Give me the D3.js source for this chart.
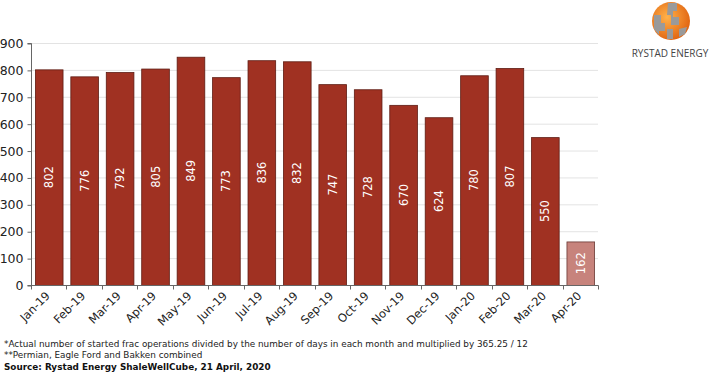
<!DOCTYPE html>
<html><head><meta charset="utf-8">
<script src="https://cdn.jsdelivr.net/npm/d3@7"></script>
<style>body{margin:0;background:#fff}svg{display:block}</style>
</head><body>
<script>
const categories = ["Jan-19","Feb-19","Mar-19","Apr-19","May-19","Jun-19","Jul-19","Aug-19","Sep-19","Oct-19","Nov-19","Dec-19","Jan-20","Feb-20","Mar-20","Apr-20"];
const values = [802,776,792,805,849,773,836,832,747,728,670,624,780,807,550,162];
const yTicks = [0,100,200,300,400,500,600,700,800,900];
const footnotes = [
  "*Actual number of started frac operations divided by the number of days in each month and multiplied by 365.25 / 12",
  "**Permian, Eagle Ford and Bakken combined"
];
const source = "Source: Rystad Energy ShaleWellCube, 21 April, 2020";

const W = 709, H = 372;
const font = "Verdana, 'DejaVu Sans', sans-serif";
const svg = d3.select("body").append("svg").attr("width", W).attr("height", H);

const x = d3.scaleBand().domain(categories).range([31, 598]).paddingInner(0.22).paddingOuter(0.11);
const y = d3.scaleLinear().domain([0, 900]).range([285, 43]);

// gridlines
svg.append("g").selectAll("line").data(yTicks.filter(d => d > 0)).join("line")
  .attr("x1", 31).attr("x2", 598).attr("y1", d => y(d) + 0.5).attr("y2", d => y(d) + 0.5)
  .attr("stroke", "#e3e3e3").attr("stroke-width", 1);

// bars
svg.append("g").selectAll("rect").data(values).join("rect")
  .attr("x", (d,i) => x(categories[i]) + 0.5)
  .attr("y", d => y(d) + 0.5)
  .attr("width", x.bandwidth())
  .attr("height", d => y(0) - y(d))
  .attr("fill", (d,i) => i === values.length - 1 ? "#c7837c" : "#a03122")
  .attr("stroke", (d,i) => i === values.length - 1 ? "#6b3a35" : "#5e1c13")
  .attr("stroke-width", 0.8);

// value labels
svg.append("g").selectAll("text").data(values).join("text")
  .attr("transform", (d,i) => `translate(${x(categories[i]) + x.bandwidth()/2 + 4.5},${(y(d) + y(0))/2}) rotate(-90)`)
  .attr("text-anchor", "middle")
  .attr("font-family", font).attr("font-size", 11.5)
  .attr("fill", "#fff")
  .text(d => d);

// y axis
const yAxis = d3.axisLeft(y).tickValues(yTicks).tickSize(4).tickPadding(4);
const gy = svg.append("g").attr("transform", "translate(31.5,0.5)").call(yAxis);
gy.select(".domain").attr("stroke", "#666").attr("d", `M-4,${y(900)}H0V${y(0)}H-4`);
gy.selectAll(".tick line").attr("stroke", "#666");
gy.selectAll(".tick text").attr("font-family", font).attr("font-size", 12.5).attr("fill", "#222");

// x axis
const gx = svg.append("g").attr("transform", `translate(0,${y(0) + 0.5})`);
gx.append("line").attr("x1", 31).attr("x2", 598.5).attr("y1", 0).attr("y2", 0).attr("stroke", "#666");
const bounds = categories.map(c => x(c) - x.step()*x.paddingInner()/2).concat([598]);
gx.selectAll("line.t").data(bounds).join("line").attr("class","t")
  .attr("x1", d => Math.round(d) + 0.5).attr("x2", d => Math.round(d) + 0.5).attr("y1", 0).attr("y2", 4).attr("stroke", "#666");
gx.selectAll("text").data(categories).join("text")
  .attr("transform", d => `translate(${x(d) + x.bandwidth()/2 + 2},11) rotate(-45)`)
  .attr("text-anchor", "end")
  .attr("font-family", font).attr("font-size", 11.5)
  .attr("fill", "#222")
  .text(d => d);

// footnotes
svg.append("g").selectAll("text").data(footnotes).join("text")
  .attr("x", 4).attr("y", (d,i) => 347 + i*11)
  .attr("font-family", font).attr("font-size", 8.85).attr("fill", "#222")
  .text(d => d);
svg.append("text").attr("x", 4).attr("y", 369.5)
  .attr("font-family", font).attr("font-size", 8.85).attr("font-weight", "bold").attr("fill", "#111")
  .text(source);

// logo
const logo = svg.append("g").attr("transform", "translate(671,21)");
const defs = svg.append("defs");
const grad = defs.append("radialGradient").attr("id","og").attr("cx","40%").attr("cy","40%").attr("r","65%");
grad.append("stop").attr("offset","0%").attr("stop-color","#ffb24a");
grad.append("stop").attr("offset","100%").attr("stop-color","#e0620f");
logo.append("circle").attr("r", 19).attr("fill", "url(#og)");
const greyPaths = [
  "M-3,-18 L6,-18 L6,-10 L2,-10 L2,-4 L8,-4 L8,4 L0,4 L0,-6 L-4,-6 Z",
  "M-17,-6 L-10,-6 L-10,2 L-6,2 L-6,10 L-12,10 L-12,14 L-17,8 Z",
  "M8,8 L16,6 L14,13 L8,16 Z",
  "M-4,8 L2,8 L2,18 L-4,18 Z"
];
logo.selectAll("path").data(greyPaths).join("path").attr("d", d => d).attr("fill", "#9a9a9a");
svg.append("text").attr("x", 670).attr("y", 57).attr("text-anchor","middle")
  .attr("font-family", "'Open Sans', 'DejaVu Sans', sans-serif").attr("font-size", 10).attr("fill","#444")
  .text("RYSTAD ENERGY");
</script>
</body></html>
